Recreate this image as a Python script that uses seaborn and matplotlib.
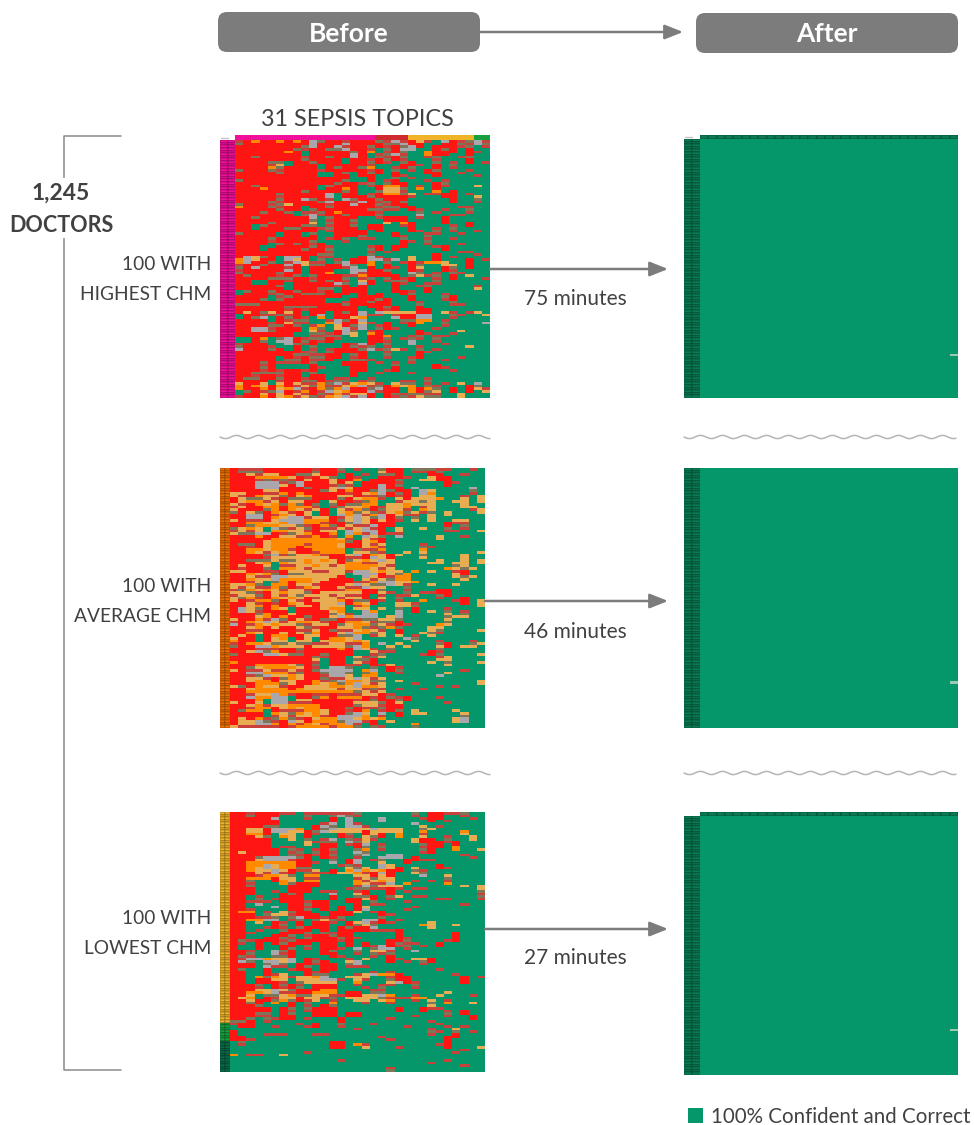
import numpy as np
import matplotlib
matplotlib.use('Agg')
import matplotlib.pyplot as plt
from matplotlib.colors import ListedColormap
from matplotlib.patches import FancyBboxPatch, Rectangle
import seaborn as sns

# answers per doctor (rows) and topic (columns)
# R wrong+confident  G correct  O orange  Y tan  A grey
before_high = [
"RRORRORORAGRRRRRRGRARRYRGARRGAR", "GRRRRRRRRARRRARRRRGGARRGGRRGRAG", "RRRRRRRRGARRARRRGRRRGARGRRRRGGR",
"RRRRRRRGRRRGGARRRGGRAAGGRGRGRGG", "RRRRRRORGRRRRRGROGRRGGGORRRGRRG", "RRRRRRRRGRRRRRARGRGARGGORRGGRGG",
"RRGRRRRRRRRGRRARGGRRGGGRGGGRGGG", "RRRRRRRRGRRRRGRRRRGRRGGGRGGGRGG", "RRRRGGGRRGRRRGRRGRRGGRGGGGRGRGR",
"RRRRRYGRRRGRRRRRRGGGRRRGRGGGGGG", "RRRROGRRRRGRGRRGOGGRRGGGRGRGGGG", "GRRRGRRRRRRRRRRRRRGGGRGRGGGGRGG",
"RRRRRGRRRRGGRGGRGRGRGGGRRGGRGGG", "RRRRRRRRRRGGRRGRRGGRRGGGRGGGGRG", "RRRRRRRRRRRRRRGGRGGGGRGGGGGGGGG",
"GRRRRRRRRRRRRGGGRGRRGGGRGRGGGGG", "RRRRRRRRRRRRGRRRGGGRRGGGRGGGGGG", "RRGRRRRRRRGGRRRGRROORGRGRRGGGYG",
"RRRORRRRRRGRRORGGRYYGGOGRGGGGGG", "RRRRRRRRGRRRRGRGGGYYRGGGOGRGGGG", "RRRRRGRRRRRAGRRGRROOGYGRRRRGRGG",
"RRRRRRRRRRRAGRRRGRRRRRGGGRRGGYG", "RRRRRGRRAGRRGAGRRGRRRGGGGGRGGGG", "RRRRGRRRRRGARRRARRGRGGGGGGRGGRG",
"GRRRRGYRRRRRRRARRGRRRGGGGGGGGGG", "ORRRGRRRGRRGRRRRRRGGRRGGGGGRRGG", "RRRRRGRRGGRRRRRRGGRRGRRGGRGGGGG",
"RRRGRRGGRRGRORRRRRGGGGGGRGGGRGG", "RRRRRRRGGARRRGRRRGGGGGAGGGRRGGG", "RRGRRRRRRAGGRRRGGRRRRGRGGRGGGGG",
"RRRRRRRRRGGRRRGGGGRRRGGGGRGGGGG", "RRRRGRRRRYGGRRRGGGYGORGGGRGGRGG", "RRGGRRRRGGGRRRGGRRGGRRGGGGRGRGG",
"RRGRRRGGRRRGRRRGRRGGGRGGRGGGGGG", "RRRRRRRRRRGRRRRRGRGGGRRGGGRGGRG", "GRRRRGRRGGGGRRRRGGGRGGGRRGGRGGG",
"RRRRRGRRGRGGRRRGGGGRRGGGGGGGGGG", "RRRRGRRRRRGRRGGRRGGGGGGRGGRGGGG", "RRRRRRRRRGGGGRGGGGGGRRGGGGGGGGG",
"RRRRGGRGRRRGGGGGGGGGRGGRGGGRGGG", "RRRGGRRRRGRRGGGGRRGRRGGGRRGGGGG", "RRRGRRRRGRRGGGGGGRGRGGGGGRGGGGG",
"RRRRRRRRRRRRGGGGRGRGGGGGGGGRRGG", "RRRRRRRRRRGGGGGGGGGGGGGGRGGGGRG", "RAYGRGAARGRRGGGRARGGGYGGRGRGGGG",
"OAYRRGAYRGGGRGRRAARAGYGGRGGGRGR", "OARRGGRAYRRGGARROGGGRRROOYGGRGG", "RRRGRRARYGGRRAGGOGRGGRGGGYYGRGG",
"GRARRRRRGRRRRRAGRGRRGRYGGRGGRGG", "RRRRRRARGRRRGGAARRGGGRRGGRRGGGG", "GRRRRGRRGRROGGARRRRGGAGGRGGRGGG",
"RGRRRRRGGGRRRRRORRRRGGYRGGRGYGG", "RRRRGGGRRRRRRGGRGGGRRRGGRGRGGGR", "RRGGRRRRRGRGRRGYRGRGGRGGGGGGGGG",
"RRGGRRGRRRRRAGGARGGRRGGRRGGGGGG", "RRRRRGGRRRRRRRGRGGGRGGRGGGGGGRG", "RRRRRRGRRRGGGRRRGGGRGGGRGGGGGYG",
"GGRRGRRGRRRRGRRRGGGRRRGRGGGGGGG", "GRRRRGRRGGGRRRGRGRGGRGGGGRGGGGG", "RRRRGRGRRRRRRGGRRRGGGRGGGGRGGGG",
"RRRGGGRRRRRGGGRRRGRGGRGGGRRGGGG", "RRRRRRRRRRRGGRRRGRRGGGRGGGGGGGG", "GGGRRRRRRRRRRGRRRRRGGGGGGGRRGGG",
"RRRRRRGGGGRRRRRGRRGRGGRGGGGGGGG", "RRRRRRRRRRRRRRRGGRRRGGRRGGGGGGG", "RYRGYRYRGRRGRGRAGAYYYYRRGYRGRYG",
"GRRRRGRRGRAGRRRARRGRRRAAGGGRGGY", "GRGAGRGRRGOGRRYOGGGARRAAGGRGGGG", "RRRRGRRGGGGRAGRAGGGGGGOOGRGGGGG",
"RRRRRRYRRGGOARRYRGRGRROGGGGGGGA", "RRRRGGRGGROGYRGAGRRGGRGGGRGGGGG", "RRAARRRRGOGGYARAGGRRGGGGRGGGGGG",
"RRAAGRRRGYRGRAGGRRGGGGRGGGGYGGG", "RRRRRRRGGGGRRAYGORGGGGRRGGRGGGG", "RRRRRRRGGRRGGGYGRROGGRGGRRGGGGG",
"GGROGGARRGGRRGGGRRGGRGRGGGGGGGG", "GGRGGAARGRRRGGGGRRRGGAGGRGGGGGG", "RRRRGGAGRRGGGRRARGGGGAGGGRGGGGG",
"GRRRRGGRGGGGGRGRGGRGGGRGGGGGYGG", "ARRRGRGRGRGRRRRGARGYRGGGRGGGGGG", "RRRRRRRRRGGGRRRRGGRGGGRRGGGGGGG",
"RRRRRRRGGRRRRGGRGGGGGGRGGGGGGGG", "RRRRRGRRRGGRRGRRGGRGGRRGGGGRGGG", "RRRRRGGGRRRRGGGGRGGGGGGGGRGGGGG",
"RRRGRRRRRGGGGRRRGRGRGRGGGGGGGGG", "RRRRRGGGGRGGGRRRGGGGGGGGRGGGGGG", "RRRGRGGGGRRGGGRRGGGRGGGGRRGGGGG",
"RRRRRRRRRRGGGGRRGGRRGGGGGGRGGGG", "RRGGGGRRGGGGGGRGGRGGGRGGGGGGGGG", "RRRRRRRRGRRGGGRGGGGGGGGGGGGGGGG",
"RGGRRGRRRRRGRRGGRGGGGGGRGGGGGGG", "RRRRGRRRGGRRGGGRGGGGRRGGGGGGGGG", "YRRYGYRYRROGARYOYRGYGGGRGRGYGAG",
"OROYRORRYGORRYOARGROYOGGRGGGRGG", "ORRORYOARROGOARRGARRGOROGGRGRYR", "GGRRGARRORRAYORRARRRGORGYGRGRGY",
"GRRYRYRYRRGRORYYRGRGRGGRRGGYGGG", "RRRORYORYGROYARARGRRGRYGGGGYGGG",
]

before_avg = [
"RRRRRRRRRRRRRGGRGGGRRGGGGRRGGRG", "RGGGRRRRRRGRRRGGGGYRRGRRRGGGGGG", "RRYRYYRRGGYRRGRGRGGGRGGGRRGGRGG",
"RRROOOOYRRRYGGRRGGRRRRGGYRRGGGG", "RRRRGRGRRYRRYRROGRRRGGGYYRRGGGG", "RRRAAARGARRRYRYGRRRRRGGGGGRRGGG",
"RRRAAAYRARRRRGRGRRARGGGGGGRGGGG", "RRRAAARRRGRRYAYRRRARRGAGGGGGGAG", "RRRRYYRRRRRGYRORRGAGRRGAYGGGGGG",
"YYRRRRORORRRRRRRYOARGRGAOGGGGRG", "YRROYYGRYORRRYYRRRGRRRGYYGGGRGY", "RYGGYRRGGGRRRGRYOORGYRYYYOGGYGY",
"RYOORYRYYRRGYRRRGOGGRYYGYGGYYGY", "YRROYOGOGRGGGRGGOOGYYOYYYGGGYGG", "RYRROOROOORGRGYYORRYYOGRYGGGYYG",
"YRRRGOROYRYRGYROGRGYYRGOYGGGGRY", "GRYGROYRRYGRGYOGYGRYOGYRGGYGGGY", "RRAARROYRYGRGAOAROARYRRGYGYGGGG",
"RRAAROYAARYYRRYAYGARGGGGYGGGGGG", "YRRRRYAAAOOORGYAYRYRRGYGYGGYYGG", "RROOYYOAAOORRRGAYRRRGGGGGGRRRGG",
"RRGOOOYYGRROGRYRRARRGGGGGGRGGGG", "GYOYGAGRYGRRRYRYARRGYGGYGGGGRGG", "RYRYGOOYYRRYYGAYAARGYGGGGGRRGGY",
"YGGAARRGYORROGAORARRRGGGGGGGGGG", "RRRORRYYRRORRGOGAYGGAGGGGYGGRGG", "RRRRROOOOOOOOYRGYRRGGGGGGYGGGGG",
"RRRRYOOOOOOOOOGRYORGGGGGGGGGGGG", "RGGRYOOOOROOOYRRYRYGGGGRGGGGGGG", "RRRRYOOOROOOOYRRYORGGGGGRGGGGGG",
"RROOYOORRROOOOGGRROGGGGOGGGGGGG", "RROYRYOYRRROOOGYYGRGGYGYGGGGGGY", "RRRRGARGYYORRRYAROYRYGGGGGGGYGG",
"RRRRRYYYYYYYRRRRRAYRGGGYGGGGYGG", "RRGGGYGGYOYOYRGYOYAYGGGGGYGGYGY", "RRRYOGOYYOYYYROORRYYGGGGYYGYYGY",
"RYRRYGRRYYOYRYOOOOYRGGGGGGGGYGG", "RRRRGGOOYRYYYYOOOYRYGGGGGGOYGYG", "YYRRRRRYYYRRYYRAAYOYYGOGYGGRRGG",
"RROYOGRGGYYYYYGAAARYGOGGGGGYRGG", "RRYRRAAYYYYYYRGGAYRROOGGGGGYGYG", "RROYYAOOOOYYRRRGYRYGOOGGGGGGYGG",
"RRRYGGOROOYRRRRRROAAYYOGGGGGGGG", "YYOGGOORYYRRRRYAYGGAYRGGYGGYGGG", "YRYRROGRROYRRYRRAYYGGGGGGGGGGGG",
"RGOYOYRYYRRRRROORRGGGRGGGRRGGGG", "YYGRRYOYYGRYYYYYRRYRGGGRRRRGGGG", "RYYGRYRYGYYYRYRRRGRGRRYGGGRGGGG",
"YGORROYOYRRYYRYYRGYGGGGGGRGGRGG", "YRROOGRYRRYYYORGGRRGRGGOGGGRRGY", "RRYRRRROYRRYYAROYRGGYYRGGGGGRGY",
"RRYORORRYYRYYYGROGGGYYGGGGGGGGY", "RAYGROYGRRRYOOGYYGYGGGRGGGRGGGG", "RAYRRRRGRRRRYOGGAOGGAGRGYGGGRGG",
"RRRGORRYRRRRGYRGAAGGAGGGGGYGGGG", "RRRYORORRGRRYAOAAAGYAGGGGGGYYGG", "YRRORAGRYRRGGRRRGGYYGGGGGGYGGGG",
"RROYAYRYOOYRRROOYRGGRGGGGGGGGGG", "ARROYOYYGRYYRGYOOGYRRRGGGOYGGGG", "RRYORYRRYGRRRYYOGRGOGGGGYYGGGGG",
"RRRRRRRRRRYRGRRYOYRGRGGGYGGGGGY", "RROYRRYRYGORRYAOOGYGRGGYGRGGGGG", "RYRGROORRYYRRGGAGRYGYGRGYGGGGGG",
"YRRGRYOGRYGROOYAGGGGGAGGGGGGGGG", "ORRGRYYGYYGYOOYOYGGGGGYGGRGGGRG", "RROOYGGYGGRRYYRROGAGYGGGGGRGGGY",
"GRRAAOYYYRYYYYGAOGGYGYGGGYRGYYG", "RRRRRRRRGRRRRORAYRGGGGGGGGGGGGG", "RRYAGORRRRRRRRRGGYRRGGGGRRGGGGG",
"GRRRAAYGGRRGRRRGGRGGGGGRRGGGGGY", "RRRRRRRRRRGRRRGYRGYGGGGGGRYGGGG", "RRRRRRRRRRYGRRGGGRGGGGGGGYYGGGG",
"ORRRRRRRRRRGRRGYRRGGGGGGYGGGGGY", "RRROOOOYGRGGRRRRGRRYGGGGGGYGGGG", "RRGYOOOOYRRGAAGGGGGRRGGGGGGGGGG",
"YRRRYRRYRRGAAAAGOAGRGGGGGGGGRGG", "RRAAOOORGRRGAAGGGOGGRGGGGGYGGGG", "RRRGAYYOYRRRAAYGOOGGGGGGGAGGGGG",
"RRYYRRGOYRRGRRYAYRYGGGGGGGGGGGG", "RRYOORYYRRORGAOOYGGGYGGGGGGGGGY", "RRROOOGYRROYOGOAYRYGGGRGGGGGGGY",
"YGROYYRRRYYYOOYAOOYGGGGGGRGRGGG", "RRYOOOOROYYYYRYYRGRGRGGRGGGGGGG", "RROOOOOOOOOOOOOGYRYGGGGGGGGGGGG",
"RRRYYAORRRRRRRRRYYRRGGGGGGGGGGG", "RRAOOAAGRRGOROOORRRGRRGGGRGGGGG", "RRROGAAGYYRRRRRRRGRRGRGGGGGGGGG",
"YRRYGAARRRRRRRRYYYGRYGGGGGRGGGG", "RRYORYYOOOORRRRGYYRRRGGGGGGGGGG", "RRROORYOYOORRRGRRRGRRGGGGGGGGGG",
"RGOOGRRRROOYRRRROGRRGGYGGGGYGGG", "RRRRGOYGOYOYRRGAYGAGRGYYGGGGYGG", "RRRRGRYRYYORRAAAOGRGRGGGGGGGGGG",
"RYRORGOGRRYOOAAYOYOGGGGGGGGYAGG", "RYYAGRRAYROOOGAARRGYGGGGGGGYAGG", "RYYAAOROROYROOARGRGGGGOGGGGGGGG",
"YRRRRRRROOOOROOGGGRGGGGGGGGGGGG",
]

before_low = [
"RRRRRRRRGRRRRRRGGGGGGGGGRRRRGGG", "RRGRRRGGGGGGGAGRGGGGGGRGRRGGRGG", "RRRRRAGGGRGGRGAGGGAGGGGRRRGGGRG",
"RRRRRRGGGGGGRGAGGGAGGGGGRGRGGGG", "RRRRRRGGGGGRAGARGGGGGGAGGGGGGGG", "RRRRGGGGGGRAGGAARGGGGGGYGRGGGGG",
"RRYYRAAAOGRGAYYYYAYYYGGGYGGGGGG", "RRYYRAAYYRGAYYYYRYYYYGGOGGGGOGG", "RROORGYYGRRGGRGGRYRGOGGRGGGGYGG",
"RRRYGGOYGRGGGRRGYGRGOGGYGGRGGYG", "RRRRRGGYGGGRAGGRYRGGGGYRRGGGGYG", "RRRRRGGGGYRGGGAGYGGGGGYRRRRRGGG",
"RRRRRGGGGYGRRGRRAGRGGGGGRRGRGGG", "RRRRRGRRGGGRRGGRGGGGGGGRRRGOGGG", "RRRRRRGGRGRRGGGGOGRGGGGGRGGOGGY",
"RYRRRRGRGGGRRGGAGGGGGGGRRGGGGGG", "RRRRRRGGRRRRGGGGAGGAAGGGGGGGRGG", "RRRGAAAAGRGRRGGRGGAAAGRGGGGGGRG",
"RRRYAAARRRGGGGRAGRGGGRRRRGGGGGG", "RROOOOOORRRGAGRAGGYGGRGGGGGGGGG", "RROOAYOORRGGGRGRGGAYGGGGGRGGGGG",
"RROYAYOOGGGGGGYGYGAYRGYGGRRGGGG", "RROYYAYRRRYGRGOAOYORRGGRGGGGGGG", "RRRYRARRGGRRRYYORRARGGYGGGGGGGG",
"RRRROOYGGOOGGGGYYRYRGGGAGGYGGGG", "RROOORYYGRRGGGGRYGYYGGGGGGGGGGG", "RRGGGROYGOOGGGGORYOYGGRGRGRGGGG",
"RRRGGGOGRRRGGGGOYRRAGOGGGGOGGGG", "RRGGGGGRRRRGGGGRAGYYYGGGGGGGYGY", "RRRGGGGRRRGGGGRGGRRRRGRRGGGGGGY",
"RRRGGRGRRRGRRGGRRGGRGRGGGGGGGGG", "RRRGGGRGRGGGAGGYRGGRGGGGGGGGGGR", "RRGRGGRRRGGGRGGGGRGGYGRRGGGGGGG",
"RRGGGRRRRGGGRGRRYRGRGGGGGRRGGGR", "RRRRRGRRRRRRGGRRGGGGGRGGGGGGGGG", "RRGAGGGRRGRRGGGRGRRGGGGGGGGGRGG",
"RRGGGAGRRRRRGRGRYGGGGGRGGGGGGGG", "RRRGGGGRRGGRGRGRAGGGGRGGGGGGGGG", "ROOGRGYGRRGGRRRYGRRGGGGGGGGGGGG",
"RRRGGYYRRRRGRRRGGGRRGGGGGGGGGGG", "RRRRRGGGARRRRGGGGGGGGGGGGGGGGGG", "RROOAAGRGGGYGRGGAARGRGGGGGGGGGG",
"RRGYGRRGRGRRRGRYARRRGGGGYGGGGGG", "RRGGGRGGRGRRGGRGYGGGGGGOYGGYGGG", "RRGGRRRGGRRRGRGRRAGGGGGGYGGGGGG",
"RRGRGGGRRRGRGRRRRRRRRGGGGGGGGGG", "RRRGGGRRRGGGRRRGGGGGRGGGGGGRGGG", "RRGGGRRGGRRRGRRGGGGGRGGGGGGRGGG",
"RRGGRRGRGGRRRGRRGGGGRRGGGGGRGGG", "RGRRRRRGRRRRRRRGGGGRRGGGGGRRGGG", "RRGRGRGRRRGRRGRGRGGRGRRGGRGGGGG",
"RGGRGGRRGGGRRGRGRRARRGGRGRGGGGG", "RGGRGGRGGRGRRRGAGGAAGRGGGGGGGGG", "RRRGGAGRGGGRGGGGGYYRGGAGGGGGGGG",
"RRGGGARRGGGRRGGRGGRGGGGGGGGGGGG", "RGRGGGGRGGGGRRGGGRGRGGGGGGGGGGG", "RRAAOYYAGRRGGGRGYGGRRGYYRGGGGGG",
"RAGGAAYAGRGRGGYAGGGRGRGGRGGGGGG", "RRRGGAGGRRRRRGGAGGGGGGGRGGGGGGG", "RRRGARRGRGGRRGRRRGGGGGGGGGGGGGG",
"RGGGRGGRRRGRRGGGGGGGGGGGGRGGGGG", "RRGGRGGGGRRRGGGGGRGRGGGGGGGGGGG", "RRGGRRYGGRGGGGGRYAOORGGGGGGRGGG",
"RRGOGOYRYYOAGGYYYGGRRRGGGGGGRGR", "RRGRRYYGYYYAARGYRGGGRRGGGGGGRGG", "RRGRRRRGGYYYYGGOGGGYARRGGGGGRGG",
"RRRGGRGRRGRRRGGRGGRRGGGGGGGGGGG", "RRRRGRRRGGRRRGGGRGGGGGRGGGGGGGG", "RRRYYAYGRRROOGGGGRRGGGGGGGGGGGG",
"RROOYARRRROOOGRRGGGGGGGGGGYGGGG", "RRYGGGYOGGYYRRRRYYAOGGRGGYGGGRG", "RYOGRRYYRYYRGGYYYYGRRROOGGGGGGG",
"RRYRRGOGRRYGRGGYYGYOGGRGYGRGGGG", "RRGRGOGRGGGGOGGGRGGRGGGGGGOGGYG", "RRRGGGGRGRGRGGGGGGGGGGGGYGGGGGG",
"RRRRRGRGGGRRRGGGGGGGRGGRRRGGGGG", "RRRRRGRRGRRRRGGGGGGGRGGRGGRGRGG", "RRRGGGRGGGRRRGRRGGGGGGGGGGGGRGG",
"RRRRRGRRGGRRRGRRGGGGGGRGGGRGGRG", "RRGGGRRRGRGGGRGGGGGRGGGGGGGGGRG", "GGRGRGGGGGGGGRGGGGGGGGGGRGGGGGG",
"RRRGGGGGRGRGGGGGGRGGGGGGGRGGGGG", "GRRGGRGGGRRGGRGGGGGGGRGGGGRGRGG", "GGGGGGGGGGGGGGGRGGGGGGGGRGGYGGG",
"RGGGGGGGGGGGGGGGGGGGGGGGGRGGGRG", "RGGGRRRGGGRRGGGGGGGGGGGGRGGRGGG", "RRGGGGGGGGGGGGGGGGRGGGGGGGRRGGG",
"RRRGGGGGGGGGGGGGGGGRGGGGGGRGGGG", "GGGGGGGGGGGGRRGGGGGGGGGGGGRGGGG", "GRGGGGGGGGGGRRGORGGGGGGGGRRGGGG",
"GGGGGGGGGGGGRRGGYGGGRGGGGGRGGGY", "GGGGGGGGGGGGGGGGGGGGGGGGGGGGRGG", "GGGGGGGGGRGGGGGGGGGGGGGGGGGRGGG",
"OGRRGGYGGGGGGGGGGGGGGGGGGGGGGGG", "GGGGGGGGGGGGGGGGGGGGGGGGGGGGGGG", "GGGGGGGGGGGGGRGGGGGGGGGGGGRGGGG",
"GGGGGGGGGGGGGGGGGGGGGGGGRGGGGGG", "GGGGGGGGGGGGGGGGGGGGGGGGGGGGRGG", "GGGGGGGGGGGGGGGGGGGRGGGGGGGGGGG",
"GGGGGGGGGGGGGGGGGGGGGGGGGGGGGGG",
]

top_high = "MMMMMMMMMMMMMMMMMDDDDTTTTTTTTVV"
after_row = "G" * 31
n_after_high, n_after_avg, n_after_low = 99, 100, 101
tick_rows = [82, 82, 83]

strip_high = [("M", 98)]
strip_avg = [("B", 100)]
strip_low = [("T", 81), ("V", 7), ("K", 12)]
strip_after = [("W", 100)]

row_labels = [["100 WITH", "HIGHEST CHM"], ["100 WITH", "AVERAGE CHM"], ["100 WITH", "LOWEST CHM"]]
minutes = ["75 minutes", "46 minutes", "27 minutes"]

sns.set_theme(style="white")
plt.rcParams['font.family'] = ['Lato', 'DejaVu Sans']

CW, CH = 974, 1125
fig = plt.figure(figsize=(CW / 100, CH / 100), dpi=100)

colors = {"G": "#059669", "R": "#FF1612", "O": "#FF8A00", "Y": "#E8AD52", "A": "#A9A7AC",
          "r": "#C9413A", "g": "#7E7658", "M": "#F0109A", "D": "#CF2A30", "V": "#17A03E",
          "B": "#F07000", "K": "#0A6B48", "W": "#0A7C55", "L": "#9CC9B4", "H": "#0A7A52",
          "T": "#F0B429"}
codes = list(colors)
cmap = ListedColormap([colors[c] for c in codes])


def pix_ax(x0, y0, x1, y1):
    return fig.add_axes([x0 / CW, 1 - y1 / CH, (x1 - x0) / CW, (y1 - y0) / CH])


def to_matrix(rows):
    return np.array([[codes.index(c) for c in r.ljust(31, "G")[:31]] for r in rows])


def soften(m):
    # one-row-high cells read duller in the source screenshot
    out = m.copy()
    R, G, r, g = codes.index("R"), codes.index("G"), codes.index("r"), codes.index("g")
    for i in range(m.shape[0]):
        for j in range(m.shape[1]):
            up = m[i - 1, j] if i > 0 else -1
            down = m[i + 1, j] if i < m.shape[0] - 1 else -1
            if m[i, j] == R and up != R and down != R:
                out[i, j] = r
            if m[i, j] == G and up != G and down != G:
                out[i, j] = g
    return out


def draw_grid(m, rect, lines=False):
    ax = pix_ax(*rect)
    sns.heatmap(m, ax=ax, cmap=cmap, vmin=-0.5, vmax=len(codes) - 0.5, cbar=False,
                xticklabels=False, yticklabels=False,
                linewidths=0.2 if lines else 0, linecolor=(0, 0, 0, 0.14))
    return ax


def strip_matrix(runs):
    col = [codes.index(c) for c, n in runs for _ in range(n)]
    return np.array([col, col]).T


# before panels
draw_grid(np.array([[codes.index(c) for c in top_high]]), (235, 135, 490, 140))
draw_grid(soften(to_matrix(before_high)), (235, 140, 490, 398))
draw_grid(strip_matrix(strip_high), (220, 140, 235, 398), lines=True)
draw_grid(soften(to_matrix(before_avg)), (230, 468, 485, 728))
draw_grid(strip_matrix(strip_avg), (220, 468, 230, 728), lines=True)
draw_grid(soften(to_matrix(before_low)), (230, 812, 485, 1072))
draw_grid(strip_matrix(strip_low), (220, 812, 230, 1072), lines=True)

# after panels
for (y0, y1, n, tick, head) in [(139, 398, n_after_high, tick_rows[0], True),
                                (468, 728, n_after_avg, tick_rows[1], False),
                                (816, 1075, n_after_low, tick_rows[2], True)]:
    m = to_matrix([after_row] * n)
    m[tick, 30] = codes.index("L")
    draw_grid(m, (700, y0, 958, y1))
    draw_grid(strip_matrix(strip_after), (684, y0, 700, y1), lines=True)
    if head:
        draw_grid(np.array([[codes.index("H")] * 31]), (700, y0 - 4, 958, y0), lines=True)

# overlay for boxes, arrows, text
ov = fig.add_axes([0, 0, 1, 1], zorder=5)
ov.set_xlim(0, CW)
ov.set_ylim(CH, 0)
ov.axis("off")
ov.patch.set_alpha(0)

grey = "#7C7C7C"
txt = "#414042"
for x0, x1, y0, y1, label in [(218, 480, 12, 52, "Before"), (696, 958, 13, 53, "After")]:
    ov.add_patch(FancyBboxPatch((x0 + 8, y0 + 8), x1 - x0 - 16, y1 - y0 - 16,
                                boxstyle="round,pad=8,rounding_size=9", fc=grey, ec="none"))
    ov.text((x0 + x1) / 2, (y0 + y1) / 2 + 1.5, label, color="white", fontsize=19,
            fontweight="bold", ha="center", va="center")


def arrow(x0, x1, y):
    ov.annotate("", xy=(x1, y), xytext=(x0, y),
                arrowprops=dict(arrowstyle="-|>,head_length=1.0,head_width=0.4", color=grey,
                                lw=1.8, shrinkA=0, shrinkB=0, mutation_scale=11))


arrow(480, 683, 32)
arrow(490, 668, 269)
arrow(485, 668, 601)
arrow(485, 668, 929)

for y, lab, mins, my in [(265, row_labels[0], minutes[0], 299), (587, row_labels[1], minutes[1], 632),
                         (919, row_labels[2], minutes[2], 958)]:
    ov.text(211, y, lab[0], color=txt, fontsize=13.8, ha="right", va="center")
    ov.text(211, y + 29, lab[1], color=txt, fontsize=13.8, ha="right", va="center")
    ov.text(575.5, my, mins, color=txt, fontsize=15, ha="center", va="center")

ov.text(357, 119, "31 SEPSIS TOPICS", color=txt, fontsize=16.8, ha="center", va="center")

# bracket
ov.plot([121, 64, 64, 121], [136, 136, 1070, 1070], color="#8A8A8A", lw=1.1)
ov.add_patch(Rectangle((5, 178), 112, 60, fc="white", ec="none", zorder=2))
ov.text(61, 193, "1,245", color=txt, fontsize=16.5, fontweight="bold", ha="center", va="center", zorder=3)
ov.text(61, 225, "DOCTORS", color=txt, fontsize=15.5, fontweight="bold", ha="center", va="center", zorder=3)

# small grey marks at the corner of the panels
ov.plot([221, 228], [138, 138], color="#C4C4C4", lw=1)
ov.plot([685, 692], [137, 137], color="#C4C4C4", lw=1)

# wavy breaks between panels
for y in [437, 773]:
    for x0, x1 in [(220, 490), (684, 956)]:
        xs = np.linspace(x0, x1, 400)
        ov.plot(xs, y + 1.6 * np.sin((xs - x0) * 2 * np.pi / 22), color="#B5B5B5", lw=1.1)

# legend
ov.add_patch(Rectangle((688, 1108), 15, 15, fc=colors["G"], ec="none"))
ov.text(711, 1117, "100% Confident and Correct", color=txt, fontsize=14.8, ha="left", va="center")

fig.savefig("out.png", dpi=100)
